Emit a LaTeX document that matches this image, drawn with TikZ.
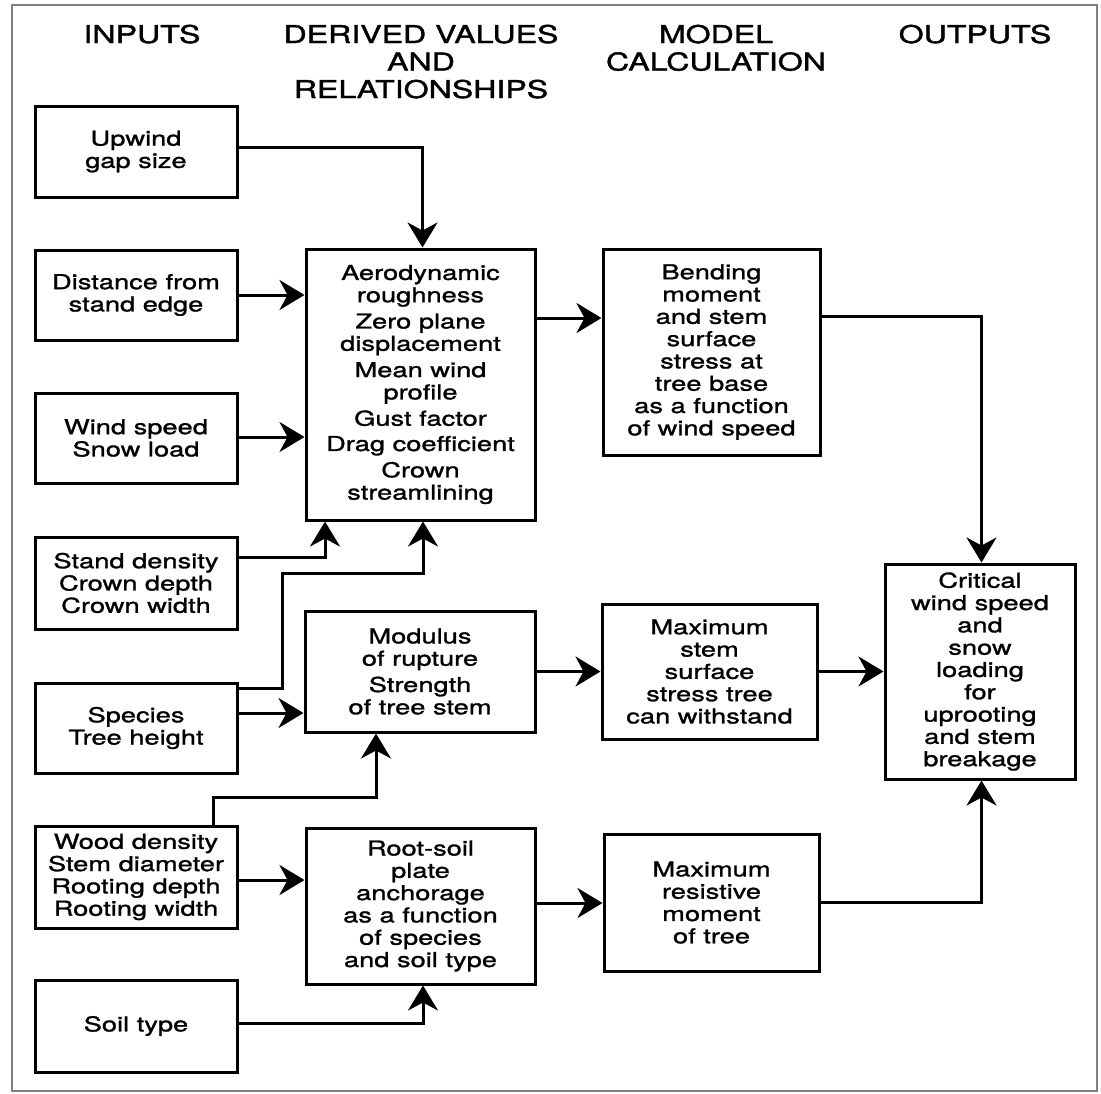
\documentclass[tikz,border=0pt]{standalone}
\usepackage{fontspec}
\usetikzlibrary{arrows.meta}
\newfontfamily\bodyfont{TeX Gyre Heros}[FakeStretch=1.33,FakeBold=1.3]
\newfontfamily\headfont{TeX Gyre Heros}[FakeStretch=1.31,FakeBold=1.5]
\begin{document}
\begin{tikzpicture}[x=1pt,y=-1pt,
  box/.style={draw, line width=3pt, rectangle, inner sep=0pt, align=center,
    font={\bodyfont\fontsize{20.5pt}{22.3pt}\selectfont}},
  inbox/.style={box, minimum width=202pt},
  head/.style={anchor=north, inner sep=0pt, align=center,
    font={\headfont\fontsize{24.5pt}{27.5pt}\selectfont}},
  arr/.style={line width=3pt, -{Stealth[length=25pt, width=30pt, inset=8pt]}},
  con/.style={line width=3pt}]
\useasboundingbox (0,0) rectangle (1101,1093);
\draw[gray, line width=2.5pt] (12,5) rectangle (1097,1091);

% headers
\node[head] (hin) at (142,24.5) {INPUTS};
\node[head] (hder) at (421,24.5) {DERIVED VALUES\\AND\\RELATIONSHIPS};
\node[head] (hmod) at (716,24.5) {MODEL\\CALCULATION};
\node[head] (hout) at (975,24.5) {OUTPUTS};

% inputs
\node[inbox, minimum height=91pt] (up) at (136,151.5) {Upwind\\gap size};
\node[inbox, minimum height=90pt] (dist) at (136,295) {Distance from\\stand edge};
\node[inbox, minimum height=90pt] (wind) at (136,438) {Wind speed\\Snow load};
\node[inbox, minimum height=92pt] (stand) at (136,583) {Stand density\\Crown depth\\Crown width};
\node[inbox, minimum height=90pt] (spec) at (136,728) {Species\\Tree height};
\node[inbox, minimum height=102pt] (wood) at (136,877) {Wood density\\Stem diameter\\Rooting depth\\Rooting width};
\node[inbox, minimum height=92pt] (soil) at (136,1026) {Soil type};

% derived
\node[box, minimum width=229pt, minimum height=271pt] (der) at (420.5,384.5)
  {Aerodynamic\\roughness\\[4pt]Zero plane\\displacement\\[4pt]Mean wind\\profile\\[4pt]Gust factor\\[3pt]Drag coefficient\\[4pt]Crown\\streamlining};
\node[box, minimum width=230pt, minimum height=121pt] (mod) at (420,671.5)
  {Modulus\\of rupture\\[4pt]Strength\\of tree stem};
\node[box, minimum width=229pt, minimum height=156pt] (root) at (420.5,906)
  {Root-soil\\plate\\anchorage\\as a function\\of species\\and soil type};

% model
\node[box, minimum width=217pt, minimum height=206pt] (bend) at (711.5,352)
  {Bending\\moment\\and stem\\surface\\stress at\\tree base\\as a function\\of wind speed};
\node[box, minimum width=215pt, minimum height=135pt] (maxs) at (709.5,671.5)
  {Maximum\\stem\\surface\\stress tree\\can withstand};
\node[box, minimum width=215pt, minimum height=137pt] (maxr) at (711.5,902.5)
  {Maximum\\resistive\\moment\\of tree};

% output
\node[box, minimum width=190pt, minimum height=215pt] (crit) at (980,671.5)
  {Critical\\wind speed\\and\\snow\\loading\\for\\uprooting\\and stem\\breakage};

% connectors
\draw[arr] ([yshift=4.5pt]up.east) -| ([xshift=2pt]der.north);
\draw[arr] (dist.east) -- (dist.east -| der.west);
\draw[arr] ([yshift=1pt]wind.east) -- ([yshift=1pt]wind.east -| der.west);
\draw[arr] ([yshift=26pt]stand.east) -| ([xshift=-95.5pt]der.south);
\coordinate (sp1) at ([yshift=40pt]spec.east);
\coordinate (sp2) at ([xshift=2.5pt]der.south);
\draw[arr] (sp1) -| ([yshift=-52pt]sp2 -| 282,0) -- ([yshift=-52pt]sp2) -- (sp2);
\draw[arr] ([yshift=15pt]spec.east) -- ([yshift=15pt]spec.east -| mod.west);
\draw[arr] ([xshift=77pt]wood.north) |- ([xshift=-44pt, yshift=-64pt]mod.south) -- ([xshift=-44pt]mod.south);
\draw[arr] ([yshift=-3pt]wood.east) -- ([yshift=-3pt]wood.east -| root.west);
\draw[arr] ([yshift=3pt]soil.east) -| ([xshift=2.5pt]root.south);

\draw[arr] ([yshift=66.5pt]der.east) -- ([yshift=66.5pt]der.east -| bend.west);
\draw[arr] (mod.east) -- (maxs.west);
\draw[arr] ([yshift=3pt]root.east) -- ([yshift=3pt]root.east -| maxr.west);

\draw[arr] ([yshift=36pt]bend.east) -| ([xshift=1.5pt]crit.north);
\draw[arr] (maxs.east) -- (maxs.east -| crit.west);
\draw[arr] (maxr.east) -| ([xshift=1.5pt]crit.south);
\end{tikzpicture}
\end{document}
